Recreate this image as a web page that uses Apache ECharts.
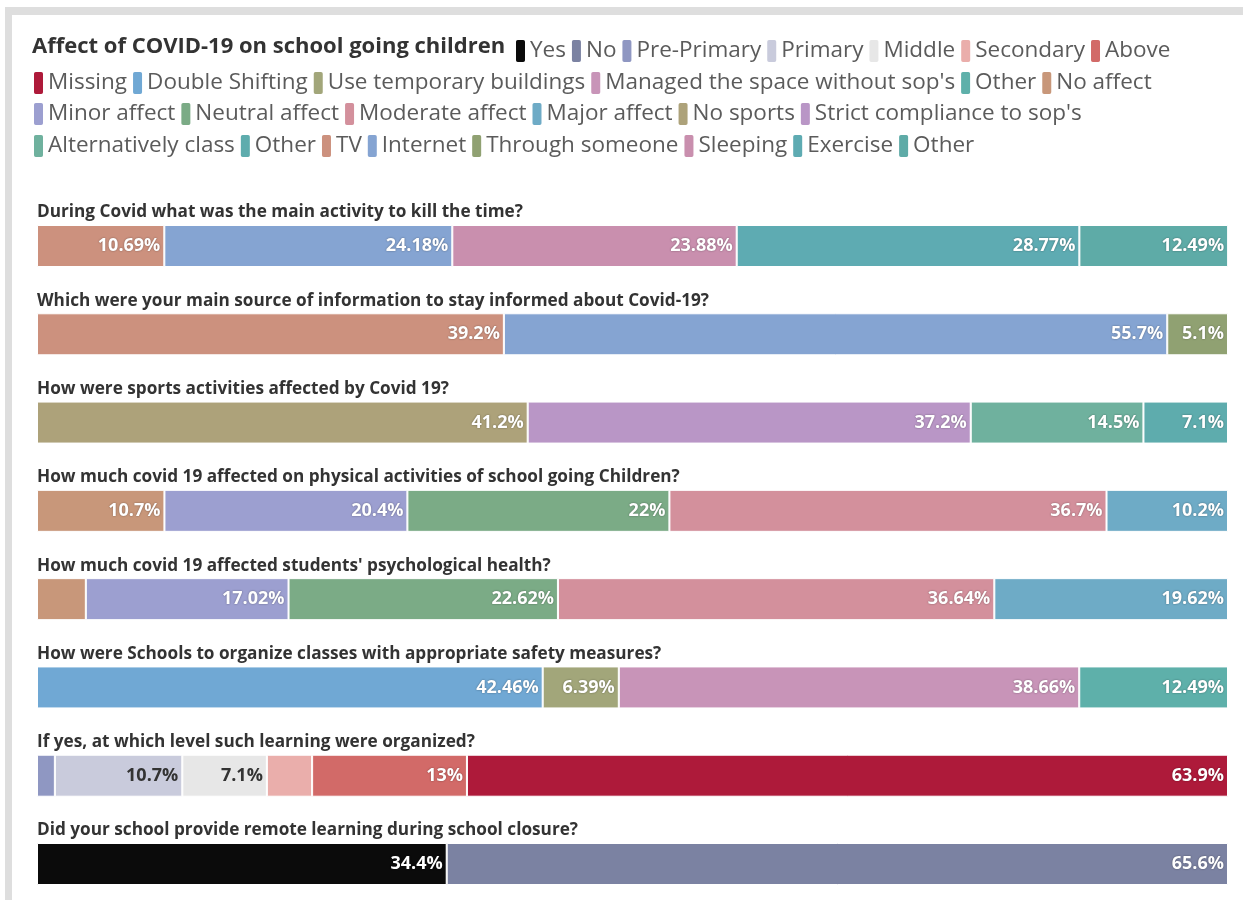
<!DOCTYPE html>
<html>
<head>
<meta charset="utf-8">
<script src="https://cdn.jsdelivr.net/npm/echarts@6/dist/echarts.min.js"></script>
<style>
  body { margin: 0; background: #fff; }
  #frame { position: absolute; left: 5px; top: 7px; width: 1238px; height: 893px; border-top: 8px solid #dedede; border-left: 7px solid #dedede; box-sizing: border-box; }
  #main { position: absolute; left: 0; top: 0; width: 1243px; height: 900px; }
</style>
</head>
<body>
<div id="frame"></div>
<div id="main"></div>
<script>
// questions, top to bottom
var questions = [
  'During Covid what was the main activity to kill the time?',
  'Which were your main source of information to stay informed about Covid-19?',
  'How were sports activities affected by Covid 19?',
  'How much covid 19 affected on physical activities of school going Children?',
  "How much covid 19 affected students' psychological health?",
  'How were Schools to organize classes with appropriate safety measures?',
  'If yes, at which level such learning were organized?',
  'Did your school provide remote learning during school closure?'
];

// answer shares (%) per question, left to right
var killTime = [10.69, 24.18, 23.88, 28.77, 12.49];
var infoSource = [39.2, 55.7, 5.1];
var sports = [41.2, 37.2, 14.5, 7.1];
var physical = [10.7, 20.4, 22, 36.7, 10.2];
var psychological = [4.1, 17.02, 22.62, 36.64, 19.62];
var safetyMeasures = [42.46, 6.39, 38.66, 12.49];
var learningLevel = [1.5, 10.7, 7.1, 3.8, 13, 63.9];
var remoteLearning = [34.4, 65.6];

var rowValues = [killTime, infoSource, sports, physical, psychological, safetyMeasures, learningLevel, remoteLearning];

// which answer each segment is (the three "Other"s get a tag, stripped in the legend)
var rowAnswers = [
  ['TV', 'Internet', 'Sleeping', 'Exercise', 'Other (time)'],
  ['TV', 'Internet', 'Through someone'],
  ['No sports', "Strict compliance to sop's", 'Alternatively class', 'Other (sports)'],
  ['No affect', 'Minor affect', 'Neutral affect', 'Moderate affect', 'Major affect'],
  ['No affect', 'Minor affect', 'Neutral affect', 'Moderate affect', 'Major affect'],
  ['Double Shifting', 'Use temporary buildings', "Managed the space without sop's", 'Other (safety)'],
  ['Pre-Primary', 'Primary', 'Middle', 'Secondary', 'Above', 'Missing'],
  ['Yes', 'No']
];

// legend lines
var legendLine1 = ['Yes', 'No', 'Pre-Primary', 'Primary', 'Middle', 'Secondary', 'Above'];
var legendLine2 = ['Missing', 'Double Shifting', 'Use temporary buildings', "Managed the space without sop's", 'Other (safety)', 'No affect'];
var legendLine3 = ['Minor affect', 'Neutral affect', 'Moderate affect', 'Major affect', 'No sports', "Strict compliance to sop's"];
var legendLine4 = ['Alternatively class', 'Other (sports)', 'TV', 'Internet', 'Through someone', 'Sleeping', 'Exercise', 'Other (time)'];

var colors = {
  'Yes': '#0b0b0b', 'No': '#7b82a2', 'Pre-Primary': '#8f97c2', 'Primary': '#c9cbdc',
  'Middle': '#e7e7e7', 'Secondary': '#eaaeab', 'Above': '#d26a68', 'Missing': '#ae1a3a',
  'Double Shifting': '#70a8d4', 'Use temporary buildings': '#a2a67a', "Managed the space without sop's": '#c894b8',
  'Other (safety)': '#5eb0aa', 'No affect': '#c8977a', 'Minor affect': '#9c9fd0', 'Neutral affect': '#7bab86',
  'Moderate affect': '#d3909c', 'Major affect': '#6eabc6', 'No sports': '#ada27a',
  "Strict compliance to sop's": '#b996c6', 'Alternatively class': '#6fb19e', 'Other (sports)': '#5eacad',
  'TV': '#cc917e', 'Internet': '#85a4d2', 'Through someone': '#90a172', 'Sleeping': '#c98fae',
  'Exercise': '#5eabb2', 'Other (time)': '#5eaba7'
};
var darkLabel = ['Primary', 'Middle'];

var FONT = '"Open Sans", Lato, sans-serif';
var allNames = legendLine1.concat(legendLine2, legendLine3, legendLine4);

var series = allNames.map(function (name) {
  var data = questions.map(function (q, r) {
    var i = rowAnswers[r].indexOf(name);
    return i >= 0 ? rowValues[r][i] : '-';
  });
  var dark = darkLabel.indexOf(name) >= 0;
  return {
    name: name,
    type: 'bar',
    stack: 'all',
    barWidth: 42,
    clip: false,
    data: data,
    itemStyle: { color: colors[name], borderColor: '#fff', borderWidth: 1 },
    label: {
      show: true,
      position: 'insideRight',
      distance: 4,
      fontFamily: FONT,
      fontWeight: 'bold',
      fontSize: 18,
      color: dark ? '#333' : '#fff',
      textShadowColor: dark ? 'transparent' : 'rgba(0,0,0,0.4)',
      textShadowBlur: 2,
      formatter: function (p) { return p.value >= 5 ? p.value + '%' : ''; }
    },
    emphasis: { disabled: true }
  };
});

function legendLine(names, left, top) {
  return {
    data: names,
    left: left,
    top: top,
    padding: 0,
    orient: 'horizontal',
    icon: 'roundRect',
    itemWidth: 11,
    itemHeight: 24,
    itemGap: 4,
    selectedMode: false,
    textStyle: { fontFamily: FONT, fontSize: 22.5, color: '#5b5b5b', padding: [0, 0, 0, -1] },
    formatter: function (n) { return n.replace(/ \(.*\)$/, ''); }
  };
}

var option = {
  animation: false,
  title: {
    text: 'Affect of COVID-19 on school going children',
    left: 32,
    top: 36,
    padding: 0,
    textStyle: { fontFamily: FONT, fontSize: 22, fontWeight: 'bold', color: '#333' }
  },
  legend: [
    legendLine(legendLine1, 514, 38),
    legendLine(legendLine2, 32, 70),
    legendLine(legendLine3, 32, 101),
    legendLine(legendLine4, 32, 133)
  ],
  // ticks sit on the bar centres: first at 246, last at 864
  grid: { left: 37, right: 15, top: 246, height: 618 },
  xAxis: { type: 'value', min: 0, max: 100, show: false },
  yAxis: {
    type: 'category',
    inverse: true,
    boundaryGap: false,
    data: questions,
    axisLine: { show: false },
    axisTick: { show: false },
    axisLabel: {
      inside: true,
      interval: 0,
      margin: 0,
      align: 'left',
      verticalAlign: 'bottom',
      padding: [0, 0, 25, 0],
      fontFamily: FONT,
      fontSize: 17.2,
      fontWeight: 'bold',
      color: '#333'
    }
  },
  series: series
};

var chart = echarts.init(document.getElementById('main'));
chart.setOption(option);
</script>
</body>
</html>
